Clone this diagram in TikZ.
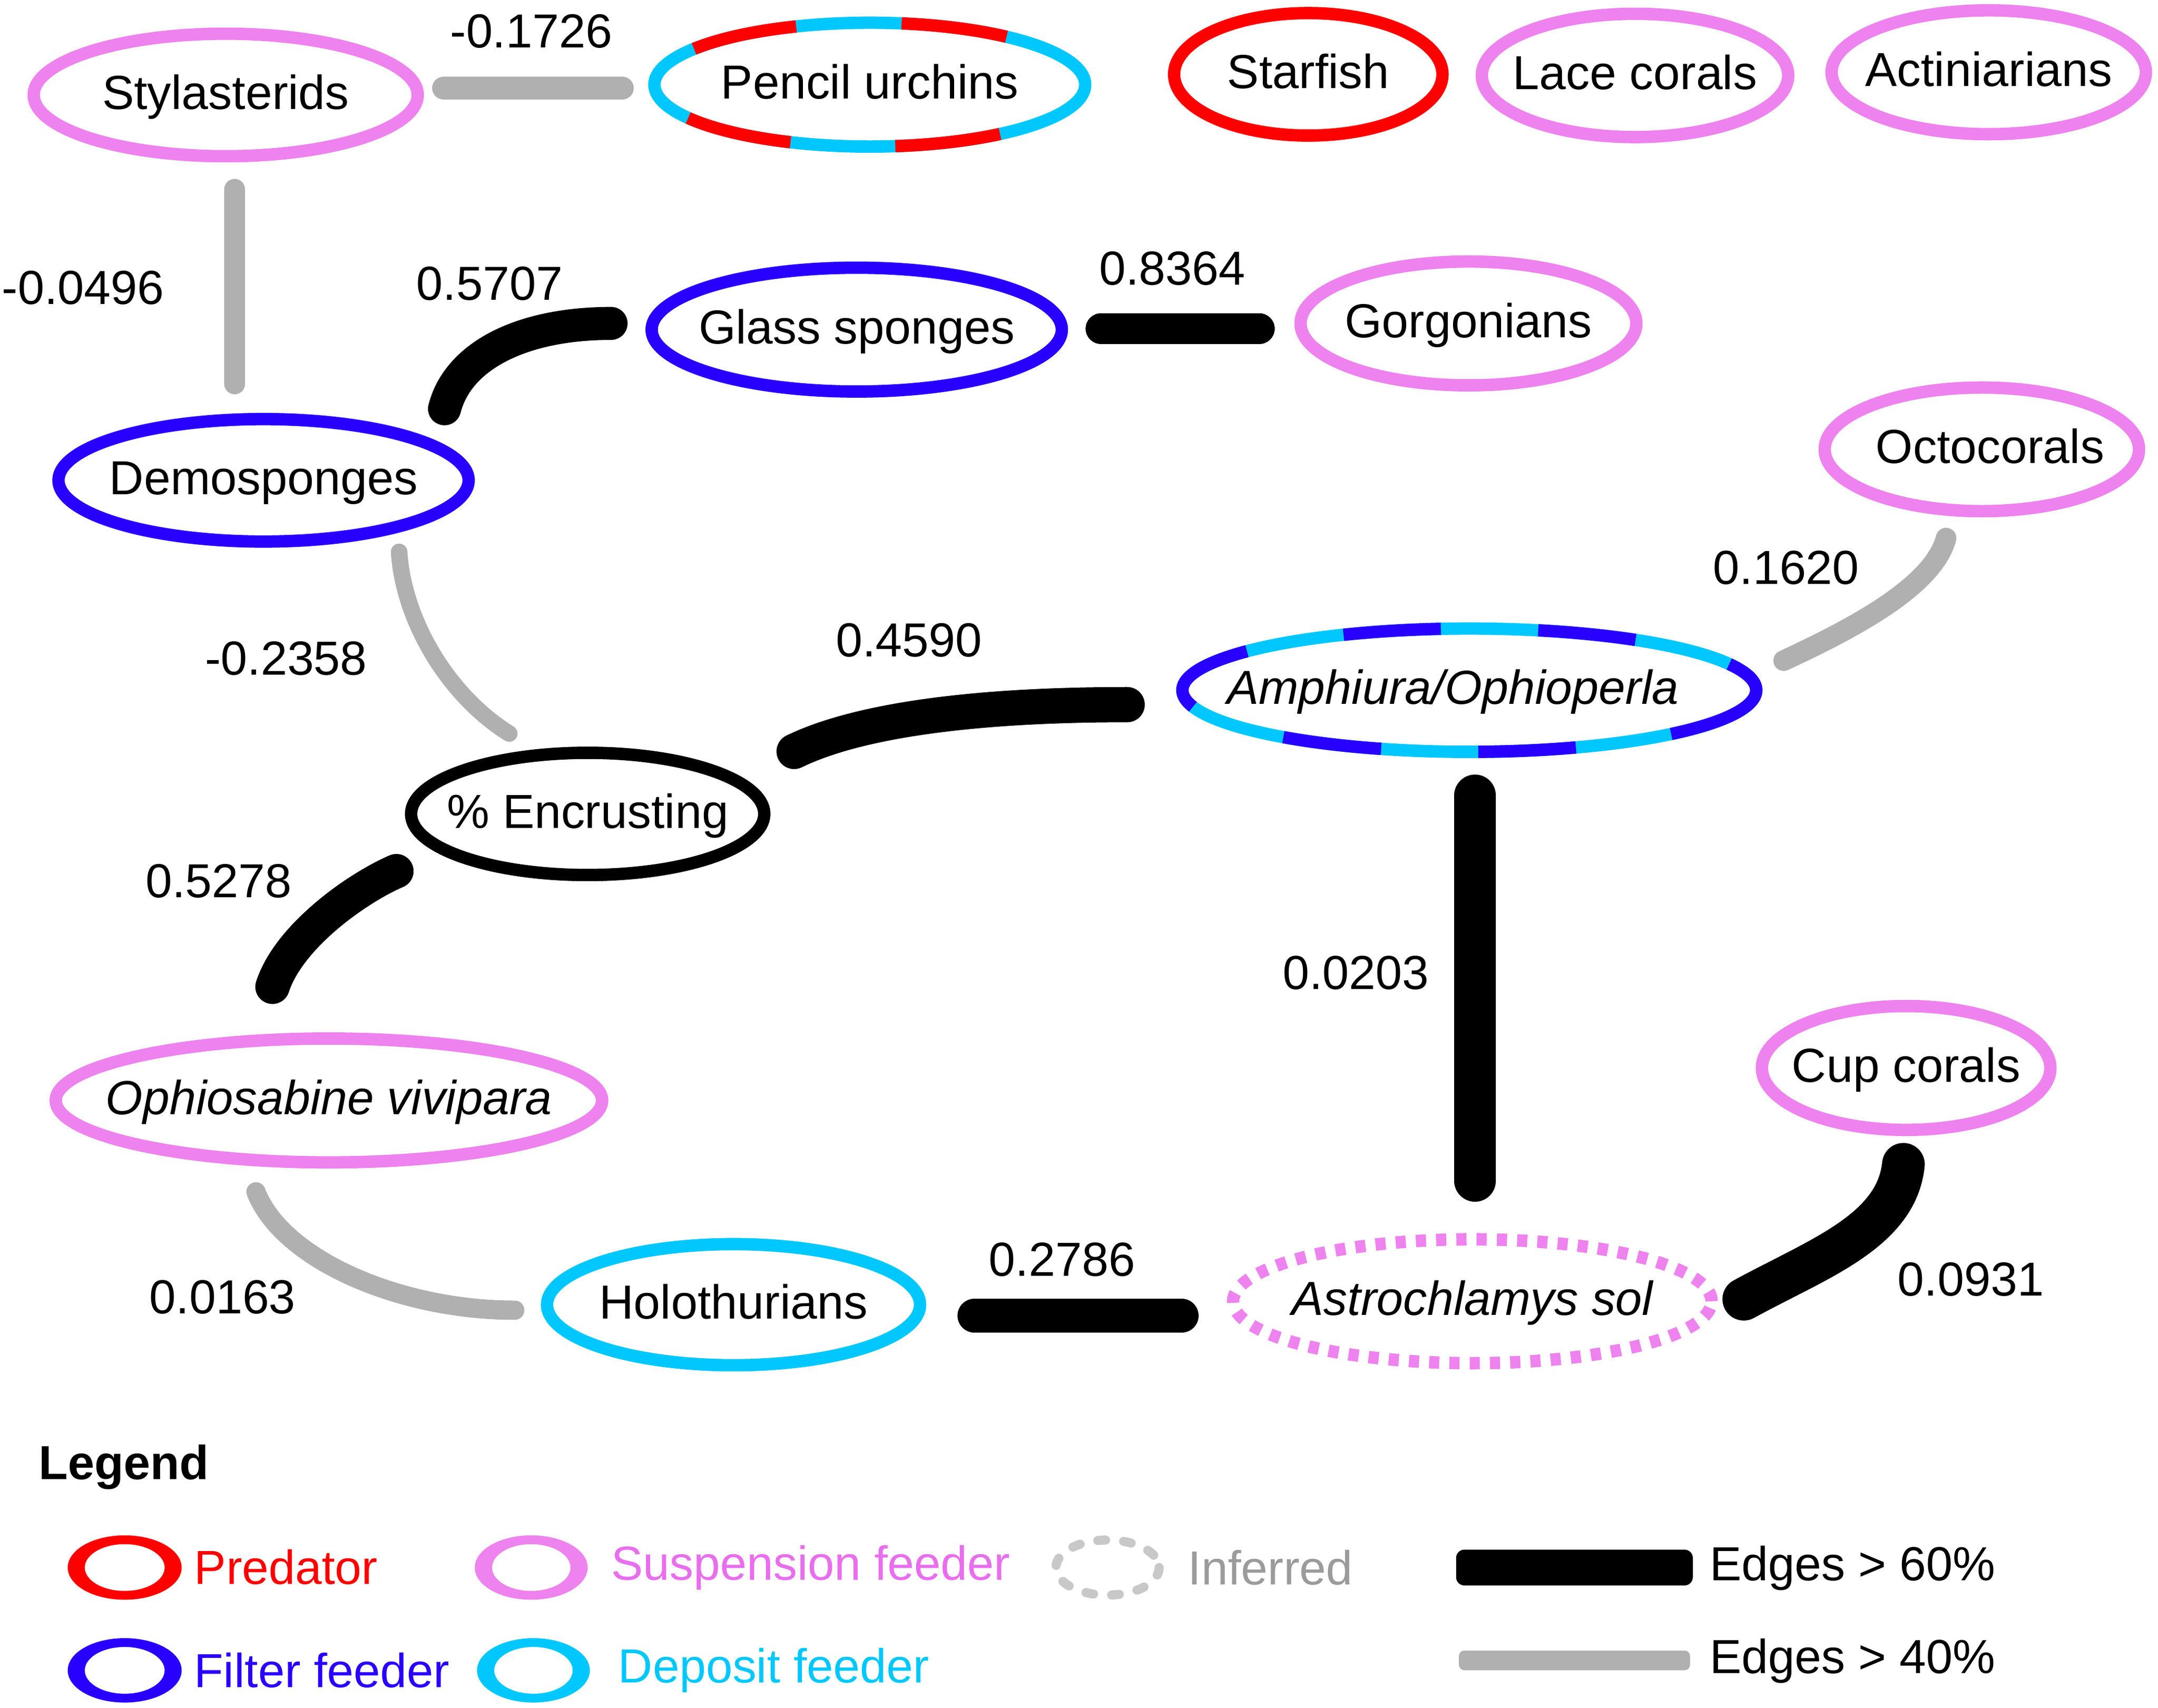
\documentclass[tikz,border=0pt]{standalone}
\usepackage{fontspec}
\setmainfont{Liberation Sans}
\usetikzlibrary{shapes.geometric,calc}
\definecolor{cRed}{RGB}{255,0,0}
\definecolor{cViolet}{RGB}{238,130,238}
\definecolor{cVioletTxt}{RGB}{232,110,238}
\definecolor{cBlue}{RGB}{40,0,255}
\definecolor{cCyan}{RGB}{0,200,255}
\definecolor{cGray}{RGB}{176,176,176}
\definecolor{cInfRing}{RGB}{200,200,200}
\definecolor{cInfTxt}{RGB}{155,155,155}
\newcommand\lblfont{\fontsize{24.7pt}{29pt}\selectfont}
\tikzset{
  sp/.style={ellipse, line width=2.25mm, inner sep=0pt, outer sep=0pt,
             text height=6.2mm, text depth=1.1mm, font=\lblfont},
  sz/.style 2 args={minimum width=#1*0.5mm, minimum height=#2*0.5mm},
  bedge/.style={black, line cap=round, line width=#1},
  gedge/.style={cGray, line cap=round, line width=#1},
  lab/.style={font=\lblfont, anchor=base, inner sep=0pt},
  leg/.style={font=\lblfont, anchor=base west, inner sep=0pt},
  seg/.style={line width=2.25mm, line cap=butt}
}
\begin{document}
\begin{tikzpicture}[x=0.25mm, y=-0.25mm]
\useasboundingbox (0,0) rectangle (1568,1240.7);

% ---------------- nodes ----------------
\node[sp, sz={139.5}{44.5}, draw=cViolet] (styl)   at (164,69)      {\makebox[0pt]{Stylasterids}};
\node[sp, sz={156.5}{45},   draw=cCyan]   (pencil) at (632,61.5)    {\makebox[0pt]{Pencil urchins}};
\node[sp, sz={97.5}{44.5},  draw=cRed]    (star)   at (950.6,54)    {\makebox[0pt]{Starfish}};
\node[sp, sz={111.3}{44.8}, draw=cViolet] (lace)   at (1188,54.8)   {\makebox[0pt]{Lace corals}};
\node[sp, sz={114.2}{45},   draw=cViolet] (actin)  at (1445,52.5)   {\makebox[0pt]{Actiniarians}};
\node[sp, sz={149}{45},     draw=cBlue]   (glass)  at (622.5,239.5) {\makebox[0pt]{Glass sponges}};
\node[sp, sz={122}{45},     draw=cViolet] (gorg)   at (1067,235)    {\makebox[0pt]{Gorgonians}};
\node[sp, sz={149}{44.5},   draw=cBlue]   (demo)   at (191.5,349)   {\makebox[0pt]{Demosponges}};
\node[sp, sz={114.2}{44.9}, draw=cViolet] (octo)   at (1440,326.5)  {\makebox[0pt]{\hspace*{3mm}Octocorals}};
\node[sp, sz={208.5}{44.8}, draw=cCyan]   (amph)   at (1067.6,501.5){\makebox[0pt]{\itshape Amphiura/Ophioperla\hspace*{6mm}}};
\node[sp, sz={128.3}{44.4}, draw=black]   (encr)   at (427,591.4)   {\makebox[0pt]{\% Encrusting}};
\node[sp, sz={198.5}{45},   draw=cViolet] (ophio)  at (239,799.6)   {\makebox[0pt]{\itshape Ophiosabine vivipara}};
\node[sp, sz={104.8}{45},   draw=cViolet] (cup)    at (1385,776)    {\makebox[0pt]{Cup corals}};
\node[sp, sz={135.5}{44},   draw=cCyan]   (holo)   at (533,948)     {\makebox[0pt]{Holothurians}};
\node[sp, sz={173.8}{45},   draw=cViolet, dash pattern=on 1.84mm off 1.84mm] (astro) at (1069.8,945.5) {\makebox[0pt]{\itshape Astrochlamys sol}};

% segmented borders
\foreach \a/\b in {-144.7/-110, -81.5/-50.6, 111.6/147.5, 52.8/83.2}
  \draw[seg, cRed] (pencil.center) ++(\a:156.5 and 45) arc[start angle=\a, end angle=\b, x radius=156.5, y radius=45];
\foreach \a/\b in {-25.1/45.3, 68.2/88.2, 107.9/130.4, 164.4/219.2, -116/-95.7, -76.1/-54.6}
  \draw[seg, cBlue] (amph.center) ++(\a:208.5 and 44.8) arc[start angle=\a, end angle=\b, x radius=208.5, y radius=44.8];

% ---------------- connectors ----------------
\draw[gedge=4.25mm] ($(styl)+(158.5,-5)$) -- ($(pencil)+(-180,2.5)$);
\draw[gedge=3.75mm] ($(styl)+(6.5,68.5)$) -- ($(demo)+(-21,-70)$);
\draw[bedge=6mm]    ($(demo)+(131.5,-52)$) .. controls +(10,-39) and +(-64,0) .. ($(glass)+(-178.5,-4.5)$);
\draw[bedge=5.6mm]  ($(glass)+(177.5,-0.7)$) -- ($(gorg)+(-152,3.8)$);
\draw[gedge=3.75mm] ($(octo)+(-26,64.5)$) .. controls +(-9,34) and +(54,-25) .. ($(amph)+(228.4,-21.5)$);
\draw[gedge=3mm]    ($(demo)+(98.5,52)$) .. controls +(3,49) and +(-45,-28) .. ($(encr)+(-57,-58.4)$);
\draw[bedge=6.4mm]  ($(encr)+(150,-45.4)$) .. controls +(43,-21) and +(-119,0) .. ($(amph)+(-248.6,10.5)$);
\draw[bedge=6.25mm] ($(encr)+(-139,41.6)$) .. controls +(-28,12) and +(12,-37) .. ($(ophio)+(-41,-82.6)$);
\draw[bedge=7.6mm]  ($(amph)+(4.2,76.5)$) -- ($(astro)+(2,-87.5)$);
\draw[gedge=3.5mm]  ($(ophio)+(-53,66.4)$) .. controls +(19,49) and +(-84,0) .. ($(holo)+(-159,4)$);
\draw[bedge=6.15mm] ($(holo)+(175,8)$) -- ($(astro)+(-211.2,10.5)$);
\draw[bedge=7.75mm] ($(cup)+(-2,70)$) .. controls +(-5,49) and +(53,-29) .. ($(astro)+(197.2,-1.5)$);

% ---------------- edge labels ----------------
\node[lab] (l1)  at (386,34.5)    {-0.1726};
\node[lab] (l2)  at (60.3,221)    {-0.0496};
\node[lab] (l3)  at (355.7,218)   {0.5707};
\node[lab] (l4)  at (851.7,207)   {0.8364};
\node[lab] (l5)  at (1297.8,424.6){0.1620};
\node[lab] (l6)  at (207.8,490.4) {-0.2358};
\node[lab] (l7)  at (660.5,477)   {0.4590};
\node[lab] (l8)  at (159,652)     {0.5278};
\node[lab] (l9)  at (161.7,954.5) {0.0163};
\node[lab] (l10) at (771.7,927)   {0.2786};
\node[lab] (l11) at (985.2,718.7) {0.0203};
\node[lab] (l12) at (1432,941.6)  {0.0931};

% ---------------- legend ----------------
\node[leg] (legtitle) at (28,1075) {\bfseries Legend};

\fill[cRed, even odd rule]    (90.6,1139) ellipse[x radius=41.4, y radius=23.4] (90.6,1139) ellipse[x radius=29, y radius=17];
\fill[cViolet, even odd rule] (386,1139)  ellipse[x radius=41, y radius=23.4] (386,1139) ellipse[x radius=28.5, y radius=17];
\draw[cInfRing, line width=1.65mm, line cap=round, dash pattern=on 1.4mm off 3.3mm] (804.7,1139) ellipse[x radius=37.5, y radius=20];
\fill[cBlue, even odd rule]   (90.6,1213.7) ellipse[x radius=41.4, y radius=23.4] (90.6,1213.7) ellipse[x radius=29, y radius=17];
\fill[cCyan, even odd rule]   (387.6,1213.7) ellipse[x radius=41, y radius=23.4] (387.6,1213.7) ellipse[x radius=28.5, y radius=17];
\fill[black, rounded corners=1.5mm] (1058,1126) rectangle (1230,1152);
\fill[cGray, rounded corners=1mm]   (1060,1199.3) rectangle (1228,1213.6);

\node[leg, text=cRed]       (lpred) at (141,1151)   {Predator};
\node[leg, text=cVioletTxt] (lsusp) at (444,1148)   {Suspension feeder};
\node[leg, text=cInfTxt]    (linf)  at (863,1151.4) {Inferred};
\node[leg]                  (le60)  at (1242,1148.5){Edges > 60\%};
\node[leg, text=cBlue]      (lfilt) at (141,1226)   {Filter feeder};
\node[leg, text=cCyan]      (ldep)  at (449,1222.6) {Deposit feeder};
\node[leg]                  (le40)  at (1242,1216)  {Edges > 40\%};
\end{tikzpicture}
\end{document}
